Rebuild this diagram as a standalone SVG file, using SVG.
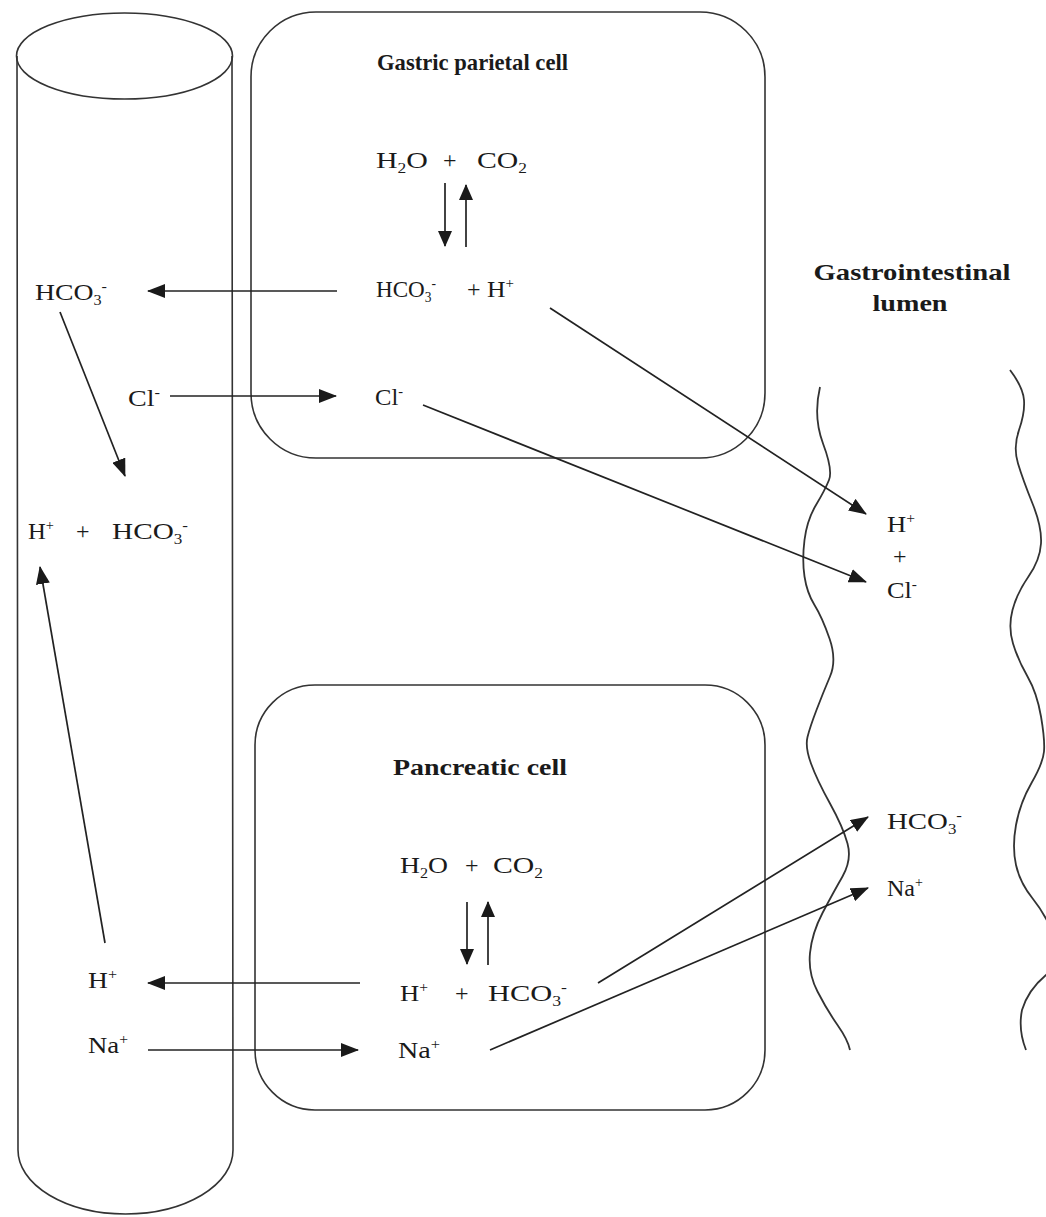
<svg xmlns="http://www.w3.org/2000/svg" width="1046" height="1217" viewBox="0 0 1046 1217">
<defs>
<marker id="ah" markerUnits="userSpaceOnUse" markerWidth="18" markerHeight="14" refX="17" refY="7" orient="auto">
<path d="M0,0 L18,7 L0,14 z" fill="#1a1a1a"/>
</marker>
<marker id="ahs" markerUnits="userSpaceOnUse" markerWidth="16" markerHeight="14" refX="15" refY="7" orient="auto">
<path d="M0,0 L16,7 L0,14 z" fill="#1a1a1a"/>
</marker>
</defs>
<style>
.shape{fill:none;stroke:#333;stroke-width:1.6}
.wave{fill:none;stroke:#333;stroke-width:1.8}
.t{font-family:"Liberation Serif","Times New Roman",serif;font-size:24px;fill:#1a1a1a}
.b{font-family:"Liberation Serif","Times New Roman",serif;font-size:23px;font-weight:bold;fill:#1a1a1a}
.s{font-size:14px}
.c{fill:none;stroke:#222;stroke-width:1.7;marker-end:url(#ah)}
.r{fill:none;stroke:#222;stroke-width:1.7;marker-end:url(#ahs)}
</style>
<rect width="1046" height="1217" fill="#fff"/>

<g id="blood-vessel">
<ellipse class="shape" cx="124.5" cy="56" rx="108" ry="43"/>
<path class="shape" d="M17,56 L18,1150 A107.5,64 0 0 0 233,1150 L232,56"/>
</g>

<g id="gastric-cell">
<rect class="shape" x="251" y="12" width="514" height="446" rx="65" ry="65"/>
<text class="b" x="377" y="70" textLength="191" lengthAdjust="spacingAndGlyphs">Gastric parietal cell</text>
<text class="t" x="376" y="168" textLength="52" lengthAdjust="spacingAndGlyphs">H<tspan class="s" dy="5">2</tspan><tspan dy="-5">O</tspan></text>
<text class="t" x="443" y="168">+</text>
<text class="t" x="477" y="168" textLength="50" lengthAdjust="spacingAndGlyphs">CO<tspan class="s" dy="5">2</tspan></text>
<text class="t" x="376" y="297" textLength="60" lengthAdjust="spacingAndGlyphs">HCO<tspan class="s" dy="5">3</tspan><tspan class="s" dy="-14">-</tspan></text>
<text class="t" x="467" y="297">+</text>
<text class="t" x="487" y="297" textLength="27" lengthAdjust="spacingAndGlyphs">H<tspan class="s" dy="-9">+</tspan></text>
<text class="t" x="375" y="405" textLength="28" lengthAdjust="spacingAndGlyphs">Cl<tspan class="s" dy="-9">-</tspan></text>
</g>

<g id="pancreatic-cell">
<rect class="shape" x="255" y="685" width="510" height="425" rx="60" ry="60"/>
<text class="b" x="393" y="775" textLength="174" lengthAdjust="spacingAndGlyphs">Pancreatic cell</text>
<text class="t" x="400" y="873" textLength="48" lengthAdjust="spacingAndGlyphs">H<tspan class="s" dy="5">2</tspan><tspan dy="-5">O</tspan></text>
<text class="t" x="465" y="873">+</text>
<text class="t" x="493" y="873" textLength="50" lengthAdjust="spacingAndGlyphs">CO<tspan class="s" dy="5">2</tspan></text>
<text class="t" x="400" y="1001" textLength="28" lengthAdjust="spacingAndGlyphs">H<tspan class="s" dy="-9">+</tspan></text>
<text class="t" x="455" y="1001">+</text>
<text class="t" x="488" y="1001" textLength="79" lengthAdjust="spacingAndGlyphs">HCO<tspan class="s" dy="5">3</tspan><tspan class="s" dy="-14">-</tspan></text>
<text class="t" x="398" y="1058" textLength="42" lengthAdjust="spacingAndGlyphs">Na<tspan class="s" dy="-9">+</tspan></text>
</g>

<g id="vessel-labels">
<text class="t" x="35" y="300" textLength="72" lengthAdjust="spacingAndGlyphs">HCO<tspan class="s" dy="5">3</tspan><tspan class="s" dy="-14">-</tspan></text>
<text class="t" x="128" y="406" textLength="32" lengthAdjust="spacingAndGlyphs">Cl<tspan class="s" dy="-9">-</tspan></text>
<text class="t" x="28" y="539" textLength="26" lengthAdjust="spacingAndGlyphs">H<tspan class="s" dy="-9">+</tspan></text>
<text class="t" x="76" y="539">+</text>
<text class="t" x="112" y="539" textLength="76" lengthAdjust="spacingAndGlyphs">HCO<tspan class="s" dy="5">3</tspan><tspan class="s" dy="-14">-</tspan></text>
<text class="t" x="88" y="988" textLength="29" lengthAdjust="spacingAndGlyphs">H<tspan class="s" dy="-9">+</tspan></text>
<text class="t" x="88" y="1053" textLength="40" lengthAdjust="spacingAndGlyphs">Na<tspan class="s" dy="-9">+</tspan></text>
</g>

<g id="lumen">
<text class="b" x="912" y="280" text-anchor="middle" textLength="197" lengthAdjust="spacingAndGlyphs">Gastrointestinal</text>
<text class="b" x="910" y="311" text-anchor="middle" textLength="75" lengthAdjust="spacingAndGlyphs">lumen</text>
<path class="wave" d="M820,387 Q813,417 823,443.5 Q833,470 829,480 Q825,490 816,505 Q807,520 804.5,540 Q802,560 804.5,576.5 Q807,593 814.5,605 Q822,617 829.5,638.5 Q837,660 830,676.5 Q823,693 816.5,710 Q810,727 807.5,737 Q805,747 811,763.5 Q817,780 830,803.5 Q843,827 847.5,843.5 Q852,860 842.5,876.5 Q833,893 822.5,913 Q812,933 810,953 Q808,973 817.5,991.5 Q827,1010 837.5,1025 Q848,1040 850,1050"/>
<path class="wave" d="M1010,370 Q1023,387 1024,400 Q1025,413 1019,430 Q1013,447 1018,463.5 Q1023,480 1032.5,503.5 Q1042,527 1041,543.5 Q1040,560 1028.5,576.5 Q1017,593 1012.5,610 Q1008,627 1013,643.5 Q1018,660 1027.5,676.5 Q1037,693 1041,716.5 Q1045,740 1044,751.5 Q1043,763 1031.5,783 Q1020,803 1016,825 Q1012,847 1016,865 Q1020,883 1033,899 Q1046,915 1056,940 Q1062,960 1046,975 Q1028,990 1022,1010 Q1018,1030 1026,1050"/>
<text class="t" x="887" y="532" textLength="28" lengthAdjust="spacingAndGlyphs">H<tspan class="s" dy="-9">+</tspan></text>
<text class="t" x="893" y="564">+</text>
<text class="t" x="887" y="598" textLength="30" lengthAdjust="spacingAndGlyphs">Cl<tspan class="s" dy="-9">-</tspan></text>
<text class="t" x="887" y="829" textLength="75" lengthAdjust="spacingAndGlyphs">HCO<tspan class="s" dy="5">3</tspan><tspan class="s" dy="-14">-</tspan></text>
<text class="t" x="887" y="896">Na<tspan class="s" dy="-9">+</tspan></text>
</g>

<g id="connectors">
<path class="r" d="M445,183 L445,246"/>
<path class="r" d="M466,247 L466,185"/>
<path class="r" d="M467,902 L467,964"/>
<path class="r" d="M488,965 L488,902"/>
<path class="c" d="M337,291 L148,291"/>
<path class="c" d="M170,396 L336,396"/>
<path class="c" d="M60,312 L125,476"/>
<path class="c" d="M105,943 L40,567"/>
<path class="c" d="M360,983 L148,983"/>
<path class="c" d="M148,1050 L358,1050"/>
<path class="c" d="M550,308 L866,514"/>
<path class="c" d="M423,405 L866,582"/>
<path class="c" d="M598,983 L868,817"/>
<path class="c" d="M490,1050 L868,888"/>
</g>
</svg>
